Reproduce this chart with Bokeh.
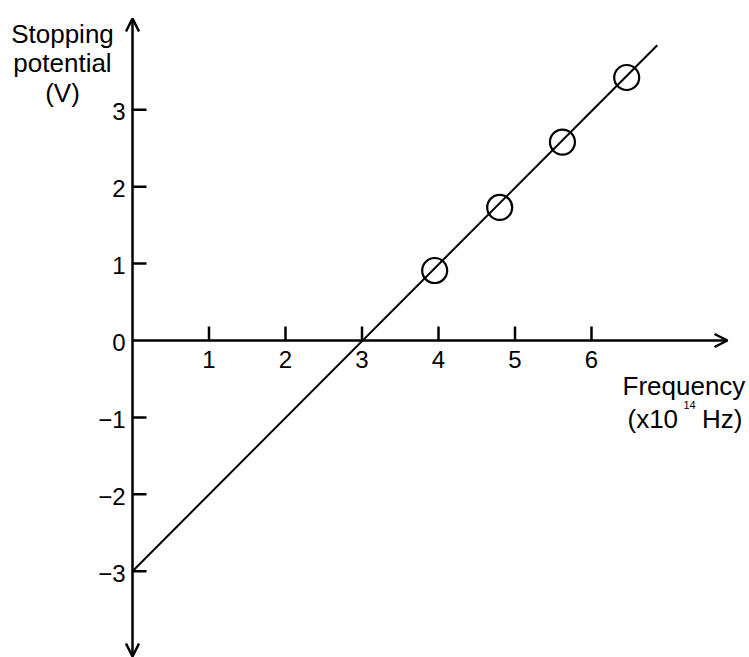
from bokeh.plotting import figure
from bokeh.models import Arrow, OpenHead, Range1d
from bokeh.core.properties import value
from bokeh.embed import file_html
from bokeh.resources import INLINE

# data
freq = [3.95, 4.80, 5.62, 6.46]
stop_v = [0.91, 1.73, 2.58, 3.42]
line_x = [0.0, 6.86]
line_y = [-3.0, 3.84]
x_ticks = [1, 2, 3, 4, 5, 6]
x_tick_labels = ["1", "2", "3", "4", "5", "6"]
y_ticks = [3, 2, 1, 0, -1, -2, -3]
y_tick_labels = ["3", "2", "1", "0", "\u22121", "\u22122", "\u22123"]

W, H = 749, 657
SX, SY = 76.5, 76.9
X0 = -132 / SX
X1 = X0 + W / SX
Y1 = 340 / SY
Y0 = Y1 - H / SY
FONT = value("Liberation Sans")

p = figure(width=W, height=H, x_range=Range1d(X0, X1), y_range=Range1d(Y0, Y1),
           output_backend="svg", toolbar_location=None, min_border=0)
p.axis.visible = False
p.grid.visible = False
p.outline_line_color = None
p.background_fill_color = "white"


def dx(px):
    return X0 + px / SX


def dy(py):
    return Y1 - py / SY


# axes with arrows
head = dict(size=13, line_width=2.5, line_color="black")
p.add_layout(Arrow(end=OpenHead(**head), start=OpenHead(**head),
                   x_start=0, y_start=dy(656), x_end=0, y_end=dy(18),
                   line_width=2.5, line_color="black"))
p.add_layout(Arrow(end=OpenHead(**head),
                   x_start=0, y_start=0, x_end=dx(727), y_end=0,
                   line_width=2.5, line_color="black"))

# ticks
tl = 14
p.segment(x0=x_ticks, y0=[0] * len(x_ticks), x1=x_ticks, y1=[tl / SY] * len(x_ticks),
          line_width=2.5, line_color="black")
yt = [t for t in y_ticks if t != 0]
p.segment(x0=[0] * len(yt), y0=yt, x1=[tl / SX] * len(yt), y1=yt,
          line_width=2.5, line_color="black")

# tick labels
p.text(x=x_ticks, y=[0] * len(x_ticks), text=x_tick_labels, text_font=FONT,
       text_font_size="24px", text_align="center", text_baseline="middle",
       y_offset=19, text_color="black")
p.text(x=[0] * len(y_ticks), y=y_ticks, text=y_tick_labels, text_font=FONT,
       text_font_size="24px", text_align="right", text_baseline="middle",
       x_offset=-7, y_offset=2, text_color="black")

# fitted line and points
p.line(line_x, line_y, line_width=2, line_color="black")
p.scatter(freq, stop_v, size=25, marker="circle", fill_color=None,
          line_color="black", line_width=2.2)

# axis titles
p.text(x=[dx(62)] * 3, y=[dy(33), dy(62), dy(92)], text=["Stopping", "potential", "(V)"],
       text_font=FONT, text_font_size="26px", text_align="center",
       text_baseline="alphabetic", text_color="black")
p.text(x=[dx(622)], y=[dy(385)], text=["Frequency"], text_font=FONT,
       text_font_size="26px", text_align="left", text_baseline="alphabetic",
       text_color="black")
p.text(x=[dx(627)], y=[dy(418)], text=["(x10"], text_font=FONT,
       text_font_size="26px", text_align="left", text_baseline="alphabetic",
       text_color="black")
p.text(x=[dx(683)], y=[dy(404)], text=["14"], text_font=FONT,
       text_font_size="11px", text_align="left", text_baseline="alphabetic",
       text_color="black")
p.text(x=[dx(742)], y=[dy(418)], text=["Hz)"], text_font=FONT,
       text_font_size="26px", text_align="right", text_baseline="alphabetic",
       text_color="black")

open("out.html", "w").write(file_html(p, INLINE))
